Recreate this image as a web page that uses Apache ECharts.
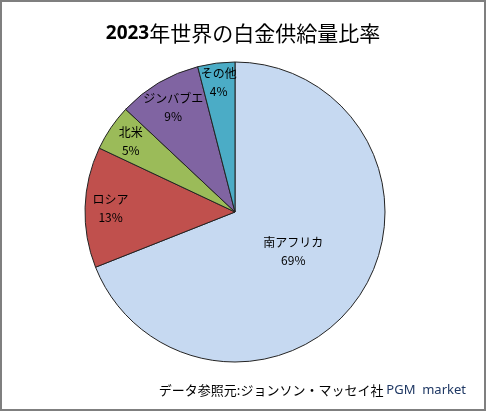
<!DOCTYPE html>
<html>
<head>
<meta charset="utf-8">
<script src="https://cdn.jsdelivr.net/npm/echarts@6/dist/echarts.min.js"></script>
<style>
  html, body { margin: 0; padding: 0; background: #fff; }
  #chart { width: 486px; height: 411px; box-sizing: border-box; border: 2px solid #7f7f7f; }
</style>
</head>
<body>
<div id="chart"></div>
<script>
// data
const regions = ['南アフリカ', 'ロシア', '北米', 'ジンバブエ', 'その他'];
const shares = [69, 13, 5, 9, 4];
const colors = ['#c6d9f1', '#c0504d', '#9bbb59', '#8064a2', '#4bacc6'];
// where each label sits, as a fraction of the radius (Excel "best fit")
const labelRadius = [0.47, 0.83, 0.84, 0.81, 0.87];

const RADIUS = 150;
const CENTER = [233, 210];
const chart = echarts.init(document.getElementById('chart'));

const total = shares.reduce((a, b) => a + b, 0);
const midAngles = [];
let acc = 0;
shares.forEach(v => {
  midAngles.push((acc + v / 2) / total * Math.PI * 2); // clockwise from top
  acc += v;
});

chart.setOption({
  animation: false,
  title: {
    text: '{a|2023}{b|年世界の白金供給量比率}',
    left: 'center',
    top: 16,
    textStyle: {
      rich: {
        a: { fontFamily: 'Noto Sans', fontWeight: 'bold', fontSize: 19, color: '#000' },
        b: { fontFamily: 'Noto Sans CJK JP', fontWeight: 'normal', fontSize: 21, color: '#000' }
      }
    }
  },
  graphic: [{
    type: 'text',
    right: 18,
    top: 382,
    style: {
      text: '{a|データ参照元:ジョンソン・マッセイ社 }{b|PGM  market}',
      rich: {
        a: { fontFamily: 'Noto Sans CJK JP', fontSize: 13, fill: '#000' },
        b: { fontFamily: 'Noto Sans', fontSize: 13, fill: '#1f3864' }
      }
    }
  }],
  series: [{
    type: 'pie',
    center: CENTER,
    radius: RADIUS,
    startAngle: 90,
    clockwise: true,
    avoidLabelOverlap: false,
    itemStyle: { borderColor: '#222', borderWidth: 1 },
    emphasis: { disabled: true },
    label: {
      position: 'outside',
      formatter: '{b}\n{d}%',
      fontFamily: 'Noto Sans CJK JP',
      fontSize: 12,
      lineHeight: 18,
      color: '#000'
    },
    labelLine: { show: false },
    labelLayout: function (p) {
      const i = p.dataIndex;
      const r = labelRadius[i] * RADIUS;
      return {
        x: CENTER[0] + Math.sin(midAngles[i]) * r,
        y: CENTER[1] - Math.cos(midAngles[i]) * r,
        align: 'center',
        verticalAlign: 'middle'
      };
    },
    data: regions.map((name, i) => ({
      name: name,
      value: shares[i],
      itemStyle: { color: colors[i] }
    }))
  }]
});
</script>
</body>
</html>
